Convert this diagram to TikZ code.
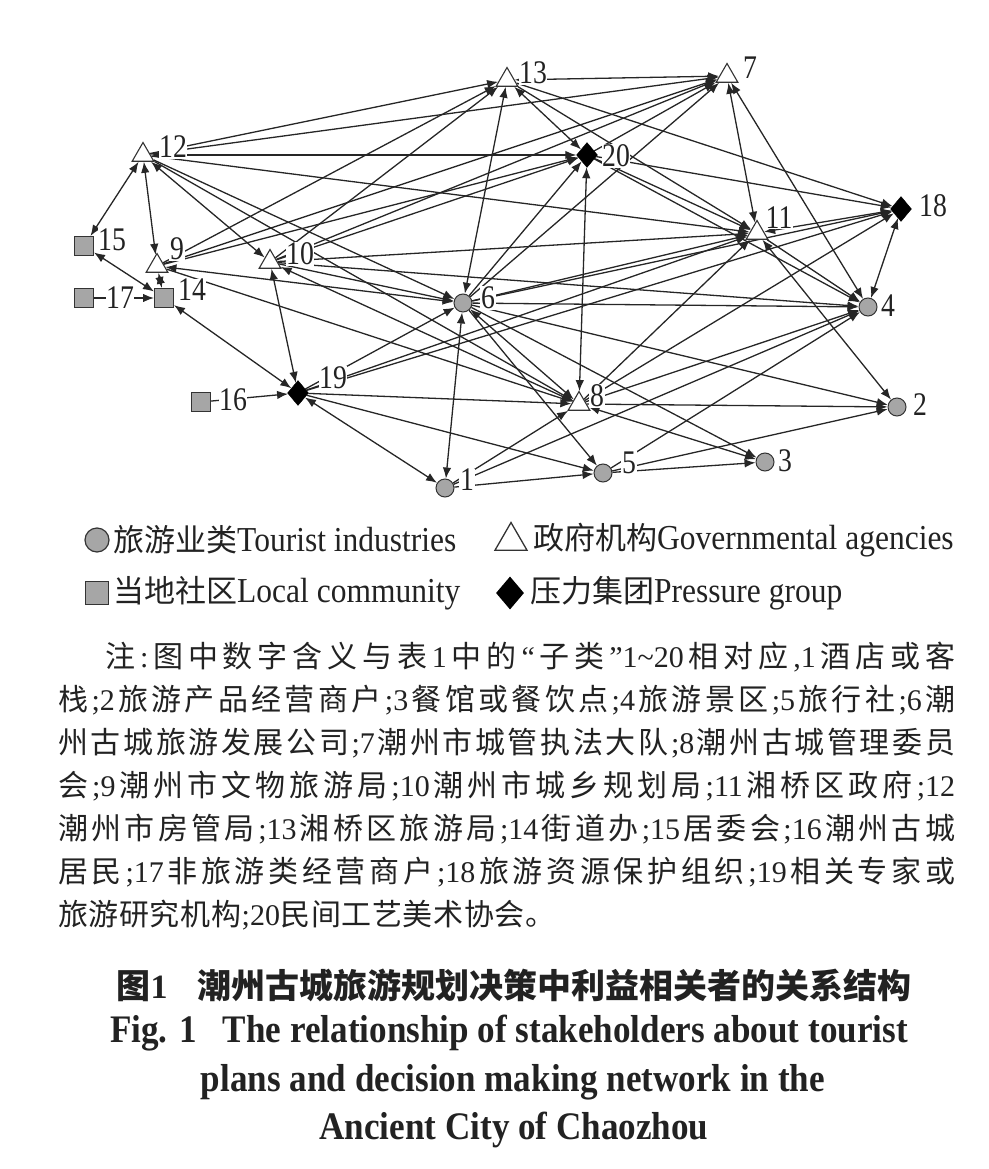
\documentclass[tikz,border=0pt]{standalone}
\usepackage{fontspec}
\setmainfont{Liberation Serif}
\newfontfamily\cjk{Noto Sans CJK SC}
\newfontfamily\latn{Liberation Serif}
\newfontfamily\lblfont[FakeStretch=0.84]{Liberation Serif}
\newfontfamily\condfont[FakeStretch=0.9]{Liberation Serif}
\usetikzlibrary{shapes.geometric,arrows.meta,backgrounds}
\definecolor{ecol}{HTML}{262626}
\definecolor{scol}{HTML}{333333}
\definecolor{gfill}{HTML}{A6A6A6}
\definecolor{tcol}{HTML}{222222}
\newcommand\LatSeg[1]{{\latn #1}}
\makeatletter
\def\spreadtext#1{\spr@first#1\spr@end}
\def\spr@first#1{#1\spr@}
\def\spr@#1{\ifx\spr@end#1\else\hfil#1\expandafter\spr@\fi}
\makeatother
\begin{document}
\begin{tikzpicture}[x=1pt,y=-1pt,
  conn/.style={draw=ecol,line width=1.3pt},
  fwd/.style={conn,-{Latex[length=11pt,width=8.5pt]}},
  bi/.style={conn,{Latex[length=11pt,width=8.5pt]}-{Latex[length=11pt,width=8.5pt]}},
  tourist/.style={circle,draw=scol,fill=gfill,line width=1pt,minimum size=18pt,inner sep=0pt},
  gov/.style={regular polygon,regular polygon sides=3,draw=scol,fill=white,line width=1.1pt,minimum size=25pt,inner sep=0pt},
  comm/.style={rectangle,draw=scol,fill=gfill,line width=1pt,minimum size=19pt,inner sep=0pt},
  press/.style={diamond,fill=black,draw=black,minimum width=21pt,minimum height=25pt,inner sep=0pt},
  lbl/.style={fill=white,inner sep=0.6pt,font=\lblfont\fontsize{33pt}{33pt}\selectfont,text=tcol},
  body/.style={anchor=west,inner sep=0pt,text=tcol,font=\cjk\fontsize{30pt}{34pt}\selectfont},
  legtxt/.style={anchor=west,inner sep=0pt,text=tcol,font=\condfont\fontsize{35pt}{38pt}\selectfont},
  figen/.style={inner sep=0pt,text=tcol,font=\condfont\bfseries\fontsize{39pt}{42pt}\selectfont},
]
\useasboundingbox (0,0) rectangle (988,1169);

% ---------- nodes ----------
\node[tourist] (n1) at (445,488) {};
\node[tourist] (n2) at (897,407) {};
\node[tourist] (n3) at (765,462) {};
\node[tourist] (n4) at (868,307) {};
\node[tourist] (n5) at (603,473) {};
\node[tourist] (n6) at (463,303) {};
\node[gov] (n7) at (727,76) {};
\node[gov] (n8) at (579,404) {};
\node[gov] (n9) at (157,266) {};
\node[gov] (n10) at (270,262) {};
\node[gov] (n11) at (757,233) {};
\node[gov] (n12) at (143,155) {};
\node[gov] (n13) at (507,80) {};
\node[comm] (n14) at (164,298) {};
\node[comm] (n15) at (84,246) {};
\node[comm] (n16) at (201,402) {};
\node[comm] (n17) at (84,298) {};
\node[press] (n18) at (901,209) {};
\node[press] (n19) at (298,393) {};
\node[press] (n20) at (587,155) {};

% ---------- labels ----------
\node[lbl] (l1) at (467,480) {1};
\node[lbl] (l2) at (920,405) {2};
\node[lbl] (l3) at (785,461) {3};
\node[lbl] (l4) at (888,306) {4};
\node[lbl] (l5) at (629,463) {5};
\node[lbl] (l6) at (488,298) {6};
\node[lbl] (l7) at (750,68) {7};
\node[lbl] (l8) at (597,396) {8};
\node[lbl] (l9) at (177,249) {9};
\node[lbl] (l10) at (300,254) {10};
\node[lbl] (l11) at (779,218) {11};
\node[lbl] (l12) at (173,147) {12};
\node[lbl] (l13) at (533,73) {13};
\node[lbl] (l14) at (192,290) {14};
\node[lbl] (l15) at (112,240) {15};
\node[lbl] (l16) at (233,400) {16};
\node[lbl] (l17) at (120,298) {17};
\node[lbl] (l18) at (933,206) {18};
\node[lbl] (l19) at (333,378) {19};
\node[lbl] (l20) at (616,156) {20};

% ---------- connectors ----------
\begin{scope}[on background layer]
% bidirectional
\draw[bi] (n12) -- (n15);
\draw[bi] (n12) -- (n9);
\draw[bi] (n15) -- (n14);
\draw[bi] (n9) -- (n14);
\draw[bi] (n14) -- (n19);
\draw[bi] (n10) -- (n19);
\draw[bi] (n1) -- (n19);
\draw[bi] (n1) -- (n6);
\draw[bi] (n6) -- (n13);
\draw[bi] (n13) -- (n7);
\draw[bi] (n13) -- (n20);
\draw[bi] (n20) -- (n8);
\draw[bi] (n7) -- (n11);
\draw[bi] (n7) -- (n4);
\draw[bi] (n18) -- (n4);
\draw[bi] (n11) -- (n2);
\draw[bi] (n11) -- (n18);
\draw[bi] (n9) -- (n6);
\draw[bi] (n12) -- (n10);
\draw[bi] (n6) -- (n8);
\draw[bi] (n8) -- (n3);
\draw[bi] (n12) -- (n20);
% directed
\draw[fwd] (n17) -- (n14);
\draw[fwd] (n16) -- (n19);
\draw[fwd] (n12) -- (n13);
\draw[fwd] (n12) -- (n7);
\draw[fwd] (n12) -- (n11);
\draw[fwd] (n12) -- (n6);
\draw[fwd] (n12) -- (n8);
\draw[fwd] (n9) -- (n13);
\draw[fwd] (n9) -- (n7);
\draw[fwd] (n9) -- (n20);
\draw[fwd] (n9) -- (n8);
\draw[fwd] (n10) -- (n13);
\draw[fwd] (n10) -- (n7);
\draw[fwd] (n10) -- (n20);
\draw[fwd] (n10) -- (n11);
\draw[fwd] (n10) -- (n4);
\draw[fwd] (n10) -- (n6);
\draw[fwd] (n8) -- (n10);
\draw[fwd] (n6) -- (n20);
\draw[fwd] (n6) -- (n7);
\draw[fwd] (n6) -- (n11);
\draw[fwd] (n6) -- (n18);
\draw[fwd] (n6) -- (n4);
\draw[fwd] (n6) -- (n2);
\draw[fwd] (n6) -- (n3);
\draw[fwd] (n6) -- (n5);
\draw[fwd] (n13) -- (n18);
\draw[fwd] (n13) -- (n11);
\draw[fwd] (n20) -- (n7);
\draw[fwd] (n20) -- (n11);
\draw[fwd] (n20) -- (n18);
\draw[fwd] (n20) -- (n4);
\draw[fwd] (n19) -- (n6);
\draw[fwd] (n19) -- (n11);
\draw[fwd] (n19) -- (n18);
\draw[fwd] (n19) -- (n8);
\draw[fwd] (n19) -- (n5);
\draw[fwd] (n1) -- (n8);
\draw[fwd] (n1) -- (n4);
\draw[fwd] (n1) -- (n5);
\draw[fwd] (n8) -- (n11);
\draw[fwd] (n8) -- (n18);
\draw[fwd] (n8) -- (n4);
\draw[fwd] (n8) -- (n2);
\draw[fwd] (n5) -- (n4);
\draw[fwd] (n5) -- (n2);
\draw[fwd] (n5) -- (n3);
\draw[fwd] (n11) -- (n4);
\end{scope}

% ---------- legend ----------
\node[circle,draw=scol,fill=gfill,line width=1.2pt,minimum size=24pt,inner sep=0pt] (lgc) at (97,540) {};
\node[legtxt] (lgct) at (113,540) {{\cjk\fontsize{31pt}{36pt}\selectfont 旅游业类}Tourist industries};
\node[regular polygon,regular polygon sides=3,draw=scol,fill=white,line width=1.3pt,minimum size=37pt,inner sep=0pt] (lgt) at (511,541) {};
\node[legtxt] (lgtt) at (533,540) {{\cjk\fontsize{31pt}{36pt}\selectfont 政府机构}Governmental agencies};
\node[rectangle,draw=scol,fill=gfill,line width=1.2pt,minimum size=23pt,inner sep=0pt] (lgs) at (97,593) {};
\node[legtxt] (lgst) at (113,593) {{\cjk\fontsize{31pt}{36pt}\selectfont 当地社区}Local community};
\node[diamond,fill=black,minimum width=28pt,minimum height=33pt,inner sep=0pt] (lgd) at (510,593) {};
\node[legtxt] (lgdt) at (530,593) {{\cjk\fontsize{31pt}{36pt}\selectfont 压力集团}Pressure group};

% ---------- note ----------
\node[body] (b1) at (105,657) {\makebox[850pt][s]{\spreadtext{注{\LatSeg{:}}图中数字含义与表{\LatSeg{1}}中的{\LatSeg{“}}子类{\LatSeg{”1\textasciitilde20}}相对应{\LatSeg{,1}}酒店或客}}};
\node[body] (b2) at (58,700) {\makebox[897pt][s]{\spreadtext{栈{\LatSeg{;2}}旅游产品经营商户{\LatSeg{;3}}餐馆或餐饮点{\LatSeg{;4}}旅游景区{\LatSeg{;5}}旅行社{\LatSeg{;6}}潮}}};
\node[body] (b3) at (58,743) {\makebox[897pt][s]{\spreadtext{州古城旅游发展公司{\LatSeg{;7}}潮州市城管执法大队{\LatSeg{;8}}潮州古城管理委员}}};
\node[body] (b4) at (58,786) {\makebox[897pt][s]{\spreadtext{会{\LatSeg{;9}}潮州市文物旅游局{\LatSeg{;10}}潮州市城乡规划局{\LatSeg{;11}}湘桥区政府{\LatSeg{;12}}}}};
\node[body] (b5) at (58,829) {\makebox[897pt][s]{\spreadtext{潮州市房管局{\LatSeg{;13}}湘桥区旅游局{\LatSeg{;14}}街道办{\LatSeg{;15}}居委会{\LatSeg{;16}}潮州古城}}};
\node[body] (b6) at (58,872) {\makebox[897pt][s]{\spreadtext{居民{\LatSeg{;17}}非旅游类经营商户{\LatSeg{;18}}旅游资源保护组织{\LatSeg{;19}}相关专家或}}};
\node[body] (b7) at (58,915) {\makebox[497pt][s]{\spreadtext{旅游研究机构{\LatSeg{;20}}民间工艺美术协会。}}};

% ---------- caption ----------
\node[inner sep=0pt,text=tcol,font=\cjk\bfseries\fontsize{34pt}{40pt}\selectfont] (cap) at (514,985) {图{\latn\bfseries 1}\hspace{30pt}潮州古城旅游规划决策中利益相关者的关系结构};
\node[figen] (f1) at (509,1033) {Fig. 1\hspace{26pt}The relationship of stakeholders about tourist};
\node[figen] (f2) at (513,1082) {plans and decision making network in the};
\node[figen] (f3) at (514,1130) {Ancient City of Chaozhou};
\end{tikzpicture}
\end{document}
